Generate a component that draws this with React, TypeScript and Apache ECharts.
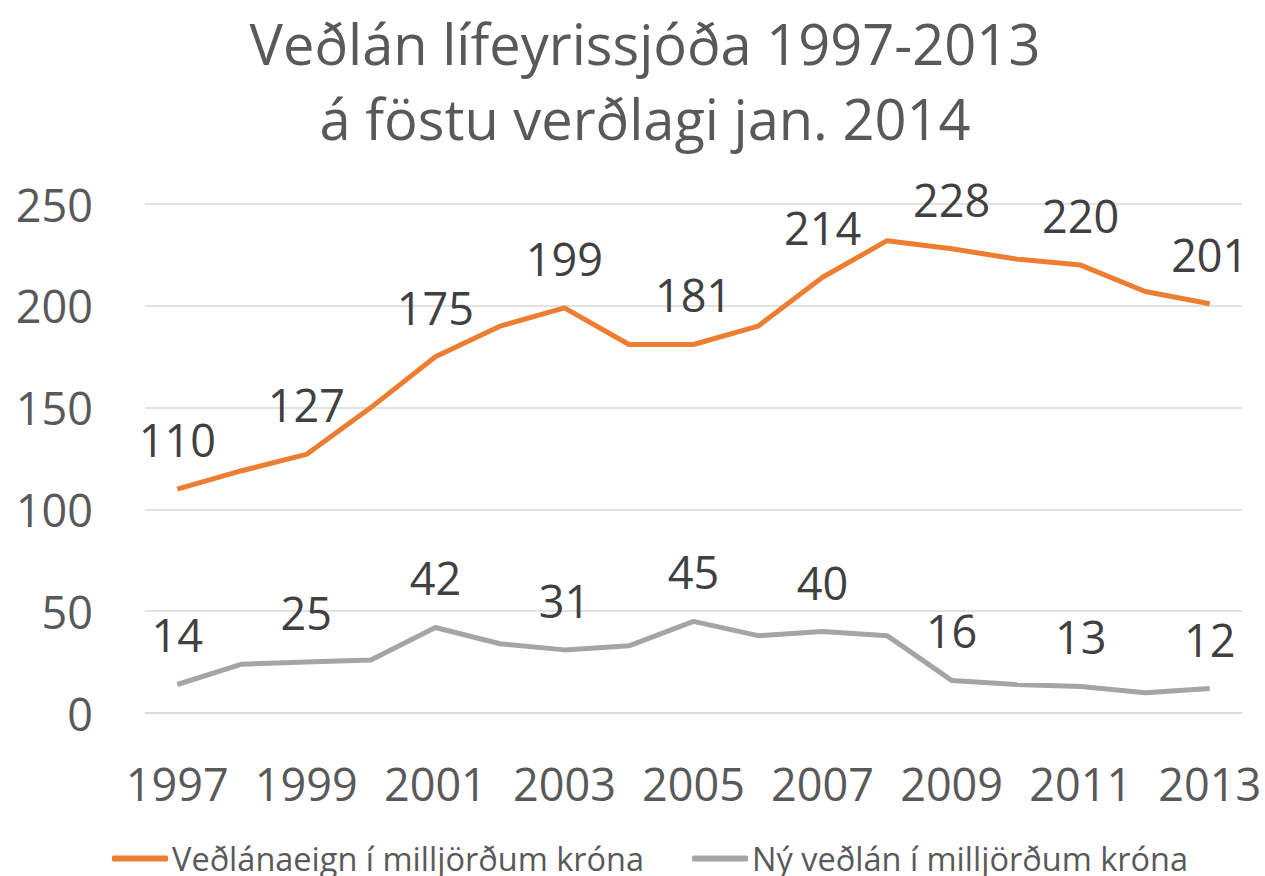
import React, { useEffect, useRef } from "react";
import * as echarts from "echarts";

const years = ["1997","1998","1999","2000","2001","2002","2003","2004","2005","2006","2007","2008","2009","2010","2011","2012","2013"];
const holdings = [110, 119, 127, 150, 175, 190, 199, 181, 181, 190, 214, 232, 228, 223, 220, 207, 201];
const newLoans = [14, 24, 25, 26, 42, 34, 31, 33, 45, 38, 40, 38, 16, 14, 13, 10, 12];
const seriesNames = ["Veðlánaeign í milljörðum króna", "Ný veðlán í milljörðum króna"];
const titleLines = ["Veðlán lífeyrissjóða 1997-2013", "á föstu verðlagi jan. 2014"];

const FONT = "'Open Sans', 'Noto Sans', sans-serif";

export default function App() {
  const ref = useRef<HTMLDivElement>(null);
  useEffect(() => {
    if (!ref.current) return;
    const chart = echarts.init(ref.current, null, { renderer: "svg" });
    const label = {
      show: true,
      position: "top",
      distance: 27,
      fontSize: 45,
      fontFamily: FONT,
      color: "#404040",
      formatter: (p: any) => (p.dataIndex % 2 === 0 ? String(p.value) : ""),
    };
    chart.setOption({
      animation: false,
      backgroundColor: "#ffffff",
      title: {
        text: titleLines.join("\n"),
        left: 640,
        top: 0,
        textAlign: "center",
        textStyle: { fontSize: 56, lineHeight: 75, fontWeight: "normal", color: "#595959", fontFamily: FONT },
      },
      legend: {
        left: 107,
        top: 837,
        itemWidth: 56,
        itemHeight: 6,
        itemGap: 48,
        icon: "roundRect",
        textStyle: { fontSize: 32.5, color: "#595959", fontFamily: FONT, padding: [0, 0, 0, -1] },
        data: seriesNames,
      },
      grid: { left: 145, right: 23, top: 204, bottom: 163 },
      xAxis: {
        type: "category",
        data: years,
        boundaryGap: true,
        axisTick: { show: false },
        axisLine: { lineStyle: { color: "#D9D9D9", width: 1.5 } },
        axisLabel: { interval: 1, fontSize: 45, color: "#595959", fontFamily: FONT, margin: 48 },
      },
      yAxis: {
        type: "value",
        min: 0,
        max: 250,
        interval: 50,
        splitLine: { lineStyle: { color: "#D9D9D9", width: 1.5 } },
        axisLabel: { fontSize: 45, color: "#595959", fontFamily: FONT, margin: 52 },
      },
      series: [
        {
          name: seriesNames[0],
          type: "line",
          data: holdings,
          symbol: "circle",
          symbolSize: 0.1,
          showSymbol: true,
          lineStyle: { color: "#ED7D31", width: 5 },
          itemStyle: { color: "#ED7D31" },
          label,
        },
        {
          name: seriesNames[1],
          type: "line",
          data: newLoans,
          symbol: "circle",
          symbolSize: 0.1,
          showSymbol: true,
          lineStyle: { color: "#A5A5A5", width: 5 },
          itemStyle: { color: "#A5A5A5" },
          label,
        },
      ],
    });
    return () => chart.dispose();
  }, []);
  return <div ref={ref} style={{ width: 1265, height: 876, position: "absolute", left: 0, top: 0 }} />;
}
